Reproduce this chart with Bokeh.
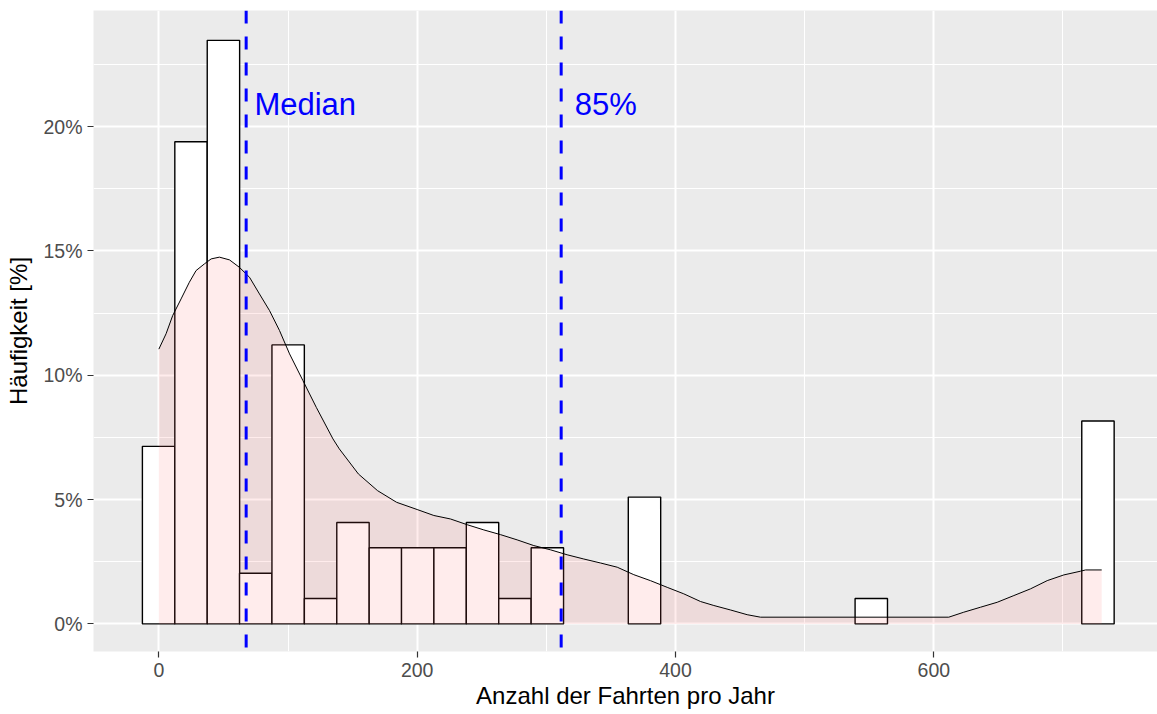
from bokeh.plotting import figure
from bokeh.models import Range1d, FixedTicker, PrintfTickFormatter, Span
from bokeh.core.properties import value
from bokeh.embed import file_html
from bokeh.resources import INLINE

# ---- data ----
binwidth = 25.08
bin_centers = [-0.2, 24.9, 50.0, 75.0, 100.1, 125.2, 150.3, 175.4, 200.4, 225.5,
               250.6, 275.7, 300.8, 376.0, 551.6, 727.1]
bin_percent = [7.14, 19.39, 23.47, 2.04, 11.22, 1.02, 4.08, 3.06, 3.06, 3.06,
               4.08, 1.02, 3.06, 5.10, 1.02, 8.16]

dens_x = [0, 5.6, 10.7, 17.2, 23.6, 28.8, 35.3, 40.5, 46.9, 54.7, 62.4, 70.2,
          77.9, 85.7, 93.4, 101.2, 111.5, 121.9, 134.8, 139.7, 154.5, 169.3,
          184.1, 200, 212.9, 225.8, 238.7, 251.6, 264.5, 277.4, 290.3, 303.2,
          316.1, 329, 341.9, 354.9, 367.7, 380.6, 393.6, 406.4, 419.4, 429.7,
          442.6, 455.5, 465.8, 611.6, 623.2, 636.1, 649.1, 662, 674.9, 687.8,
          700.7, 713.6, 717.5, 730]
dens_y = [11.05, 11.67, 12.40, 13.07, 13.74, 14.21, 14.48, 14.68, 14.75, 14.64,
          14.34, 13.94, 13.27, 12.60, 11.80, 10.86, 9.79, 8.71, 7.44, 7.04,
          6.03, 5.36, 4.89, 4.60, 4.36, 4.22, 3.99, 3.78, 3.59, 3.38, 3.15,
          2.98, 2.78, 2.61, 2.45, 2.28, 1.98, 1.74, 1.47, 1.21, 0.90, 0.74,
          0.56, 0.37, 0.27, 0.27, 0.47, 0.67, 0.87, 1.14, 1.41, 1.74, 1.97,
          2.12, 2.17, 2.17]

line_values = [67.6, 311.5]
line_labels = ["Median", "85%"]
label_x = [74.0, 322.0]
label_y = [20.9, 20.9]

x_ticks = [0, 200, 400, 600]
x_minor = [100, 300, 500, 700]
y_ticks = [0, 5, 10, 15, 20]
y_minor = [2.5, 7.5, 12.5, 17.5, 22.5]

FONT = "Liberation Sans"

p = figure(width=1157, height=714, output_backend="svg", toolbar_location=None,
           x_range=Range1d(-50.6, 773.2), y_range=Range1d(-1.11, 24.67),
           min_border_left=93, min_border_right=0, min_border_top=10,
           min_border_bottom=63)
p.background_fill_color = "#EBEBEB"
p.border_fill_color = "white"
p.outline_line_color = None

p.xaxis.ticker = FixedTicker(ticks=x_ticks, minor_ticks=x_minor)
p.yaxis.ticker = FixedTicker(ticks=y_ticks, minor_ticks=y_minor)
p.yaxis.formatter = PrintfTickFormatter(format="%d%%")

for ax in (p.xaxis[0], p.yaxis[0]):
    ax.axis_line_color = None
    ax.major_tick_line_color = "#333333"
    ax.major_tick_line_width = 1.2
    ax.major_tick_out = 6
    ax.major_tick_in = 0
    ax.minor_tick_line_color = None
    ax.major_label_text_font = FONT
    ax.major_label_text_font_size = "19.5px"
    ax.major_label_text_color = "#4D4D4D"
    ax.axis_label_text_font = FONT
    ax.axis_label_text_font_size = "24px"
    ax.axis_label_text_font_style = "normal"
    ax.axis_label_text_color = "black"

p.xaxis.axis_label = "Anzahl der Fahrten pro Jahr"
p.yaxis.axis_label = "Häufigkeit [%]"
p.xaxis.major_label_standoff = 5
p.xaxis.axis_label_standoff = 2
p.yaxis.major_label_standoff = 5
p.yaxis.axis_label_standoff = 8

for g in (p.xgrid[0], p.ygrid[0]):
    g.grid_line_color = "white"
    g.grid_line_width = 2
    g.minor_grid_line_color = "white"
    g.minor_grid_line_width = 1.1

# histogram
p.vbar(x=bin_centers, width=binwidth, top=bin_percent, bottom=0,
       fill_color="white", line_color="black", line_width=1.4)

# density
p.varea(x=dens_x, y1=[0] * len(dens_x), y2=dens_y, fill_color="#FF6666", fill_alpha=0.12)
p.line(dens_x, dens_y, line_color="black", line_width=1)

# reference lines
for v in line_values:
    p.add_layout(Span(location=v, dimension="height", line_color="blue",
                      line_width=3, line_dash="13 13"))

p.text(x=label_x, y=label_y, text=line_labels, text_font=value(FONT),
       text_font_size="31px", text_color="blue", text_align="left",
       text_baseline="alphabetic")

open("out.html", "w").write(file_html(p, INLINE))
